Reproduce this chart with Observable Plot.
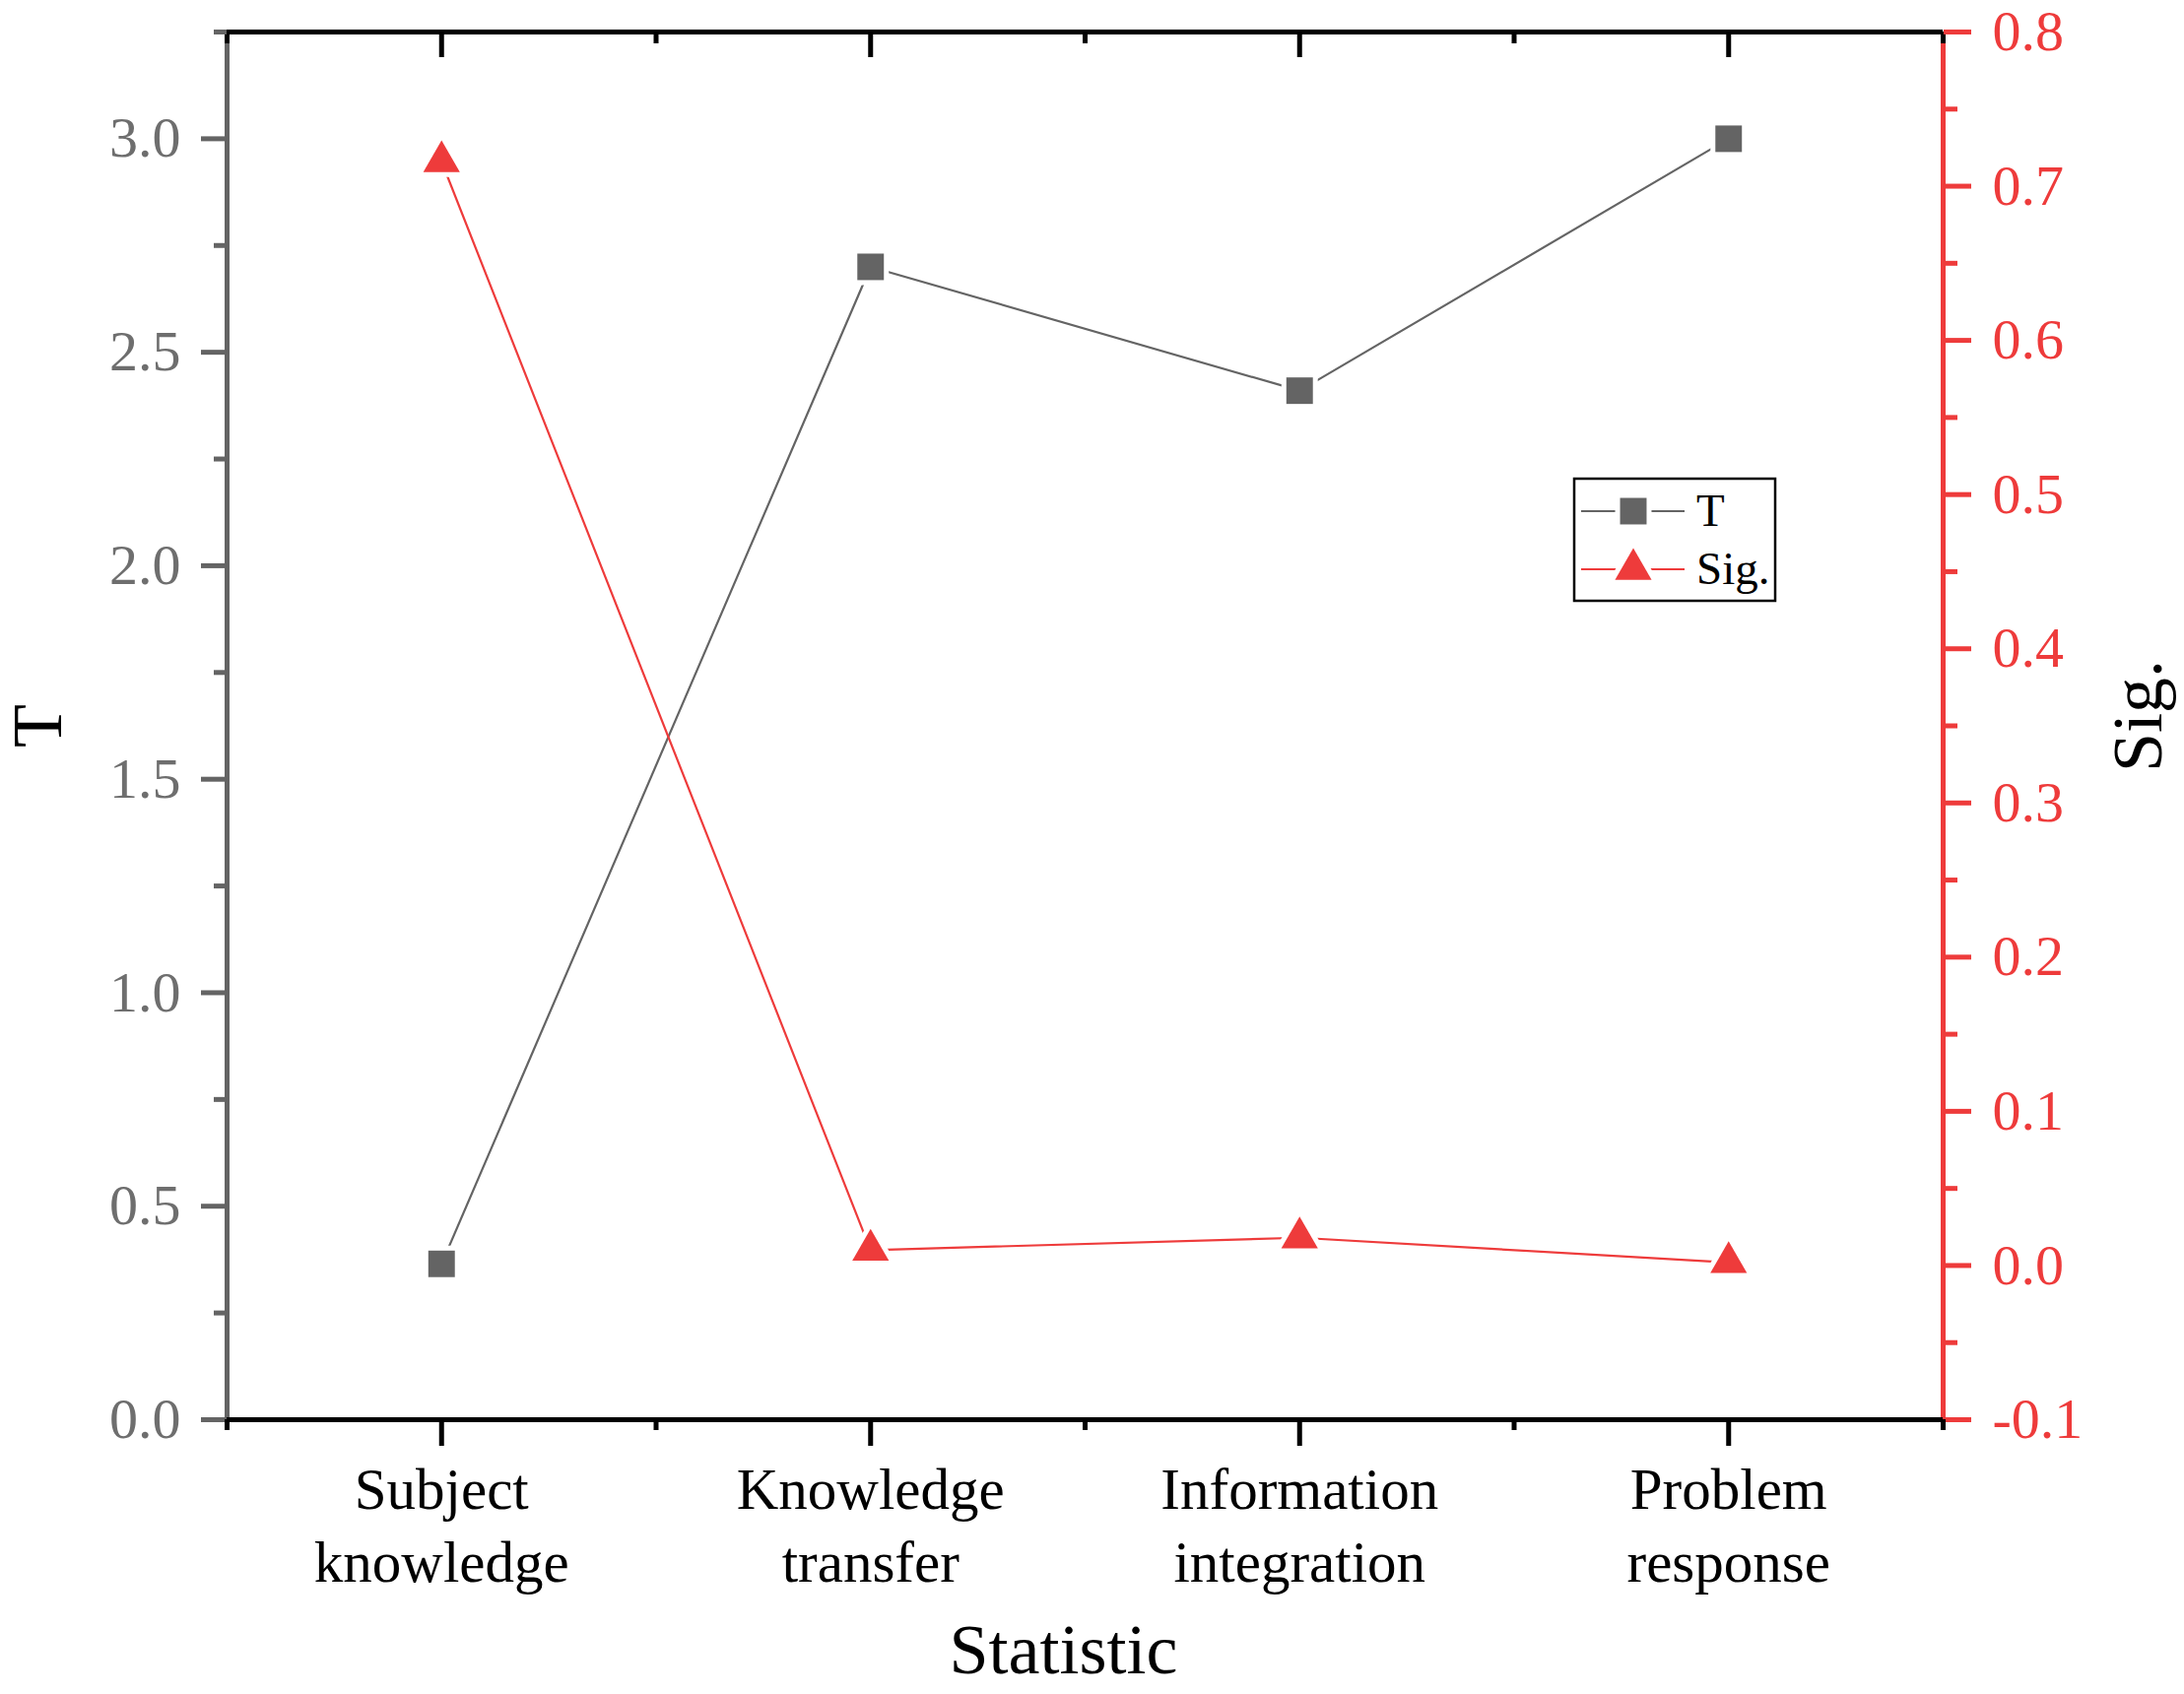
<!DOCTYPE html>
<html>
<head>
<meta charset="utf-8">
<script src="https://cdn.jsdelivr.net/npm/d3@7"></script>
<script src="https://cdn.jsdelivr.net/npm/@observablehq/plot@0.6"></script>
<style>
  html, body { margin: 0; padding: 0; background: #fff; }
  #chart { width: 2217px; height: 1720px; }
</style>
</head>
<body>
<div id="chart"></div>
<script>
// ---- data ----
const categories = ["Subject knowledge", "Knowledge transfer", "Information integration", "Problem response"];
const tickLabels = ["Subject\nknowledge", "Knowledge\ntransfer", "Information\nintegration", "Problem\nresponse"];
const tValues = [0.365, 2.70, 2.41, 3.00];
const sigValues = [0.716, 0.010, 0.018, 0.002];
const tTicks = [0, 0.5, 1.0, 1.5, 2.0, 2.5, 3.0];
const tMinorTicks = [0.25, 0.75, 1.25, 1.75, 2.25, 2.75, 3.25];
const sigTicks = [-0.1, 0.0, 0.1, 0.2, 0.3, 0.4, 0.5, 0.6, 0.7, 0.8];
const sigMinorTicks = [-0.05, 0.05, 0.15, 0.25, 0.35, 0.45, 0.55, 0.65, 0.75];
const tDomain = [0, 3.25];
const sigDomain = [-0.1, 0.8];
const legendItems = ["T", "Sig."];

// ---- setup ----
const GRAY = "#646464";
const GRAY_TEXT = "#6e6e6e";
const RED = "#ee3b3b";
const W = 2217, H = 1720;
const M = {top: 32, right: 245, bottom: 279, left: 230};
const innerH = H - M.top - M.bottom;

const rows = categories.map((c, i) => ({idx: i + 1, cat: c, t: tValues[i], sig: sigValues[i]}));
const catIdx = categories.map((c, i) => i + 1);
const catMinor = d3.range(0, categories.length + 1).map(i => i + 0.5);
const sig2t = d3.scaleLinear().domain(sigDomain).range(tDomain);

const chart = Plot.plot({
  width: W,
  height: H,
  marginTop: M.top,
  marginRight: M.right,
  marginBottom: M.bottom,
  marginLeft: M.left,
  style: {fontFamily: "'Liberation Serif', 'Times New Roman', serif", background: "#fff", overflow: "visible"},
  x: {domain: [0.5, categories.length + 0.5]},
  y: {domain: tDomain},
  marks: [
    // axis lines
    Plot.ruleX([0.5], {stroke: GRAY, strokeWidth: 5}),
    Plot.ruleX([categories.length + 0.5], {stroke: RED, strokeWidth: 5}),
    Plot.ruleY([tDomain[0]], {stroke: "black", strokeWidth: 5}),
    Plot.ruleY([tDomain[1]], {stroke: "black", strokeWidth: 5}),
    // top inward ticks
    Plot.tickX(catIdx, {x: d => d, stroke: "black", strokeWidth: 5, insetBottom: innerH - 26}),
    Plot.tickX(catMinor, {x: d => d, stroke: "black", strokeWidth: 5, insetBottom: innerH - 12}),
    // left axis (T)
    Plot.axisY(tTicks, {anchor: "left", tickSize: 26, tickPadding: 21, strokeWidth: 5, stroke: GRAY, fill: GRAY_TEXT, fontSize: 58,
      tickFormat: d => d.toFixed(1), label: null}),
    Plot.axisY(tMinorTicks, {anchor: "left", tickSize: 13, strokeWidth: 5, stroke: GRAY, tickFormat: () => "", label: null}),
    // right axis (Sig.)
    Plot.axisY(sigTicks.map(s => sig2t(s)), {anchor: "right", tickSize: 28, tickPadding: 22, strokeWidth: 5, color: RED, fontSize: 58,
      tickFormat: d => (Math.round(sig2t.invert(d) * 100) / 100).toFixed(1), label: null}),
    Plot.axisY(sigMinorTicks.map(s => sig2t(s)), {anchor: "right", tickSize: 14, strokeWidth: 5, color: RED, tickFormat: () => "", label: null}),
    // bottom axis
    Plot.axisX(catIdx, {anchor: "bottom", tickSize: 27, tickPadding: 11, strokeWidth: 5, color: "black", fontSize: 59,
      lineHeight: 1.25, tickFormat: d => tickLabels[d - 1], label: null}),
    Plot.axisX(catMinor, {anchor: "bottom", tickSize: 11, strokeWidth: 5, color: "black", tickFormat: () => "", label: null}),
    // axis titles
    Plot.text(["T"], {text: d => d, frameAnchor: "left", dx: -192, rotate: -90, textAnchor: "middle", lineAnchor: "middle", fontSize: 72, fill: "black"}),
    Plot.text(["Sig."], {text: d => d, frameAnchor: "right", dx: 198, dy: -10, rotate: -90, textAnchor: "middle", lineAnchor: "middle", fontSize: 72, fill: "black"}),
    Plot.text(["Statistic"], {text: d => d, frameAnchor: "bottom", dx: -22, dy: 234, textAnchor: "middle", lineAnchor: "middle", fontSize: 72, fill: "black"}),
    // series lines
    Plot.line(rows, {x: "idx", y: "t", stroke: GRAY, strokeWidth: 2.2}),
    Plot.line(rows, {x: "idx", y: d => sig2t(d.sig), stroke: RED, strokeWidth: 2.2}),
    // markers
    Plot.dot(rows, {x: "idx", y: "t", symbol: "square", r: 15.2, fill: GRAY, stroke: "#fff", strokeWidth: 10, paintOrder: "stroke"}),
    Plot.dot(rows, {x: "idx", y: d => sig2t(d.sig), symbol: "triangle", r: 13.8, fill: RED, stroke: "#fff", strokeWidth: 10, paintOrder: "stroke"})
  ]
});

document.getElementById("chart").appendChild(chart);

// ---- legend (layout element inside the frame) ----
const svg = d3.select(chart);
const lg = svg.append("g").attr("class", "legend").attr("text-anchor", "start");
const bx = 1598, by = 486, bw = 204, bh = 124;
lg.append("rect").attr("x", bx).attr("y", by).attr("width", bw).attr("height", bh)
  .attr("fill", "#fff").attr("stroke", "black").attr("stroke-width", 2.5);
const rowY = [519, 578];
const colors = [GRAY, RED];
const syms = [d3.symbolSquare, d3.symbolTriangle];
const sizes = [Math.PI * 15.2 * 15.2, Math.PI * 13.8 * 13.8];
legendItems.forEach((name, i) => {
  const y = rowY[i];
  lg.append("line").attr("x1", 1605).attr("x2", 1710).attr("y1", y).attr("y2", y)
    .attr("stroke", colors[i]).attr("stroke-width", 2.2);
  lg.append("path").attr("d", d3.symbol(syms[i], sizes[i])())
    .attr("transform", `translate(1658,${y})`)
    .attr("fill", colors[i]).attr("stroke", "#fff").attr("stroke-width", 10).attr("paint-order", "stroke");
  lg.append("text").attr("x", 1722).attr("y", y + 15).attr("text-anchor", "start")
    .attr("font-size", 47).attr("fill", "black").text(name);
});
</script>
</body>
</html>
